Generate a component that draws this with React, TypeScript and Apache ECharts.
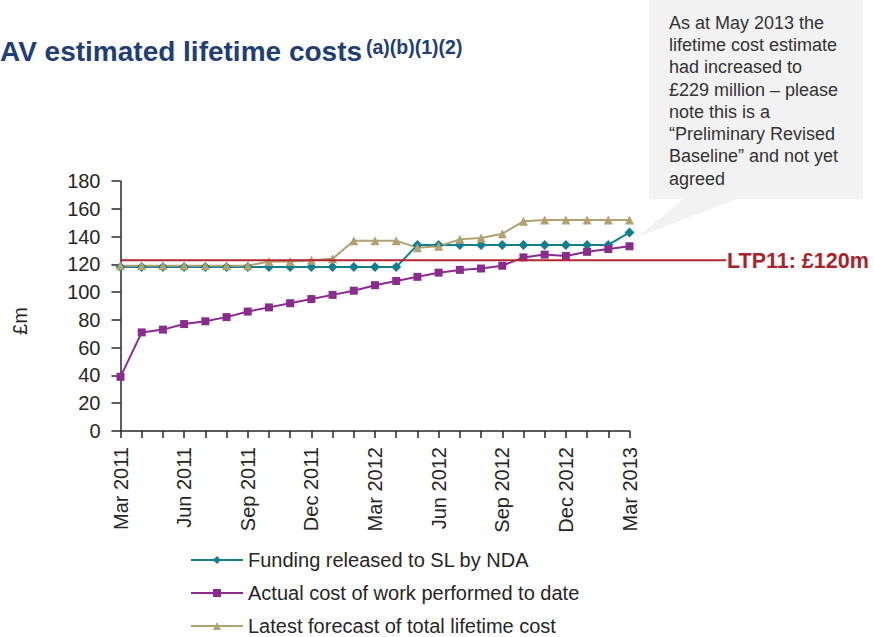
import React, { useEffect, useRef } from "react";
import * as echarts from "echarts";

const categories = [
  "Mar 2011", "Apr 2011", "May 2011", "Jun 2011", "Jul 2011", "Aug 2011", "Sep 2011",
  "Oct 2011", "Nov 2011", "Dec 2011", "Jan 2012", "Feb 2012", "Mar 2012", "Apr 2012",
  "May 2012", "Jun 2012", "Jul 2012", "Aug 2012", "Sep 2012", "Oct 2012", "Nov 2012",
  "Dec 2012", "Jan 2013", "Feb 2013", "Mar 2013",
];

const fundingReleased = [
  118, 118, 118, 118, 118, 118, 118, 118, 118, 118, 118, 118, 118, 118,
  134, 134, 134, 134, 134, 134, 134, 134, 134, 134, 143,
];

const actualCost = [
  39, 71, 73, 77, 79, 82, 86, 89, 92, 95, 98, 101, 105, 108,
  111, 114, 116, 117, 119, 125, 127, 126, 129, 131, 133,
];

const latestForecast = [
  119, 119, 119, 119, 119, 119, 119, 122, 122, 123, 124, 137, 137, 137,
  132, 133, 138, 139, 142, 151, 152, 152, 152, 152, 152,
];

const seriesNames = [
  "Funding released to SL by NDA",
  "Actual cost of work performed to date",
  "Latest forecast of total lifetime cost",
];

const LTP_VALUE = 123;
const LTP_LABEL = "LTP11: £120m";
const TITLE_MAIN = "AV estimated lifetime costs";
const TITLE_SUP = "(a)(b)(1)(2)";
const Y_NAME = "£m";
const calloutLines = [
  "As at May 2013 the",
  "lifetime cost estimate",
  "had increased to",
  "£229 million – please",
  "note this is a",
  "“Preliminary Revised",
  "Baseline” and not yet",
  "agreed",
];

const FONT = "'Liberation Sans', Arial, sans-serif";
const TEXT = "#262626";
const TEAL = "#127f8e";
const PURPLE = "#8a2b8e";
const TAN = "#b1a171";
const RED = "#b3262d";

export default function App() {
  const ref = useRef<HTMLDivElement>(null);

  useEffect(() => {
    document.body.style.margin = "0";
    const chart = echarts.init(ref.current!, null, { renderer: "svg" });

    const option: any = {
      animation: false,
      backgroundColor: "#ffffff",
      textStyle: { fontFamily: FONT },
      grid: { left: 120.5, right: 244.5, top: 181, bottom: 206, containLabel: false },
      xAxis: {
        type: "category",
        data: categories,
        boundaryGap: false,
        axisLine: { lineStyle: { color: TEXT, width: 1.5 } },
        axisTick: { show: true, interval: 0, length: 7, lineStyle: { color: TEXT, width: 1.5 } },
        axisLabel: {
          interval: 2,
          rotate: 90,
          margin: 16,
          fontSize: 20,
          color: TEXT,
          fontFamily: FONT,
        },
        splitLine: { show: false },
      },
      yAxis: {
        type: "value",
        min: 0,
        max: 180,
        interval: 20,
        axisLine: { show: true, lineStyle: { color: TEXT, width: 1.5 } },
        axisTick: { show: true, length: 9, lineStyle: { color: TEXT, width: 1.5 } },
        axisLabel: { margin: 20, fontSize: 20, color: TEXT, fontFamily: FONT },
        splitLine: { show: false },
      },
      legend: {
        orient: "vertical",
        left: 190,
        top: 550,
        height: 110,
        padding: 0,
        itemWidth: 52,
        itemHeight: 10,
        itemGap: 13,
        textStyle: { fontSize: 20, lineHeight: 20, color: TEXT, fontFamily: FONT },
        data: seriesNames,
      },
      series: [
        {
          name: seriesNames[0],
          type: "line",
          data: fundingReleased,
          symbol: "diamond",
          symbolSize: 10,
          itemStyle: { color: TEAL },
          lineStyle: { color: TEAL, width: 2 },
          z: 3,
        },
        {
          name: seriesNames[1],
          type: "line",
          data: actualCost,
          symbol: "rect",
          symbolSize: 8,
          itemStyle: { color: PURPLE },
          lineStyle: { color: PURPLE, width: 2 },
          z: 3,
        },
        {
          name: seriesNames[2],
          type: "line",
          data: latestForecast,
          symbol: "triangle",
          symbolSize: 9,
          itemStyle: { color: TAN },
          lineStyle: { color: TAN, width: 2 },
          z: 3,
        },
      ],
    };

    chart.setOption(option);

    const p = chart.convertToPixel({ gridIndex: 0 }, [0, LTP_VALUE]) as number[];
    const x0 = p[0];
    const yLtp = p[1];

    chart.setOption({
      graphic: [
        {
          type: "rect",
          shape: { x: 649, y: -2, width: 214, height: 201 },
          style: { fill: "#f2f2f2" },
          z: 1,
        },
        {
          type: "polygon",
          shape: { points: [[683, 198.5], [738, 198.5], [638, 237]] },
          style: { fill: "#f2f2f2" },
          z: 1,
        },
        {
          type: "text",
          x: 669,
          y: 11.5,
          style: {
            text: calloutLines.join("\n"),
            fontSize: 18,
            lineHeight: 22.3,
            fill: "#333333",
            fontFamily: FONT,
            verticalAlign: "top",
            align: "left",
          },
          z: 2,
        },
        {
          type: "text",
          x: 0,
          y: 51,
          style: {
            text: TITLE_MAIN,
            fontSize: 28,
            fontWeight: "bold",
            fill: "#1f3e78",
            fontFamily: FONT,
            verticalAlign: "middle",
            align: "left",
          },
        },
        {
          type: "text",
          x: 366,
          y: 47,
          style: {
            text: TITLE_SUP,
            fontSize: 19.5,
            fontWeight: "bold",
            fill: "#1f3e78",
            fontFamily: FONT,
            verticalAlign: "middle",
            align: "left",
          },
        },
        {
          type: "text",
          x: 20,
          y: 321,
          rotation: Math.PI / 2,
          style: {
            text: Y_NAME,
            fontSize: 20,
            fill: TEXT,
            fontFamily: FONT,
            verticalAlign: "middle",
            align: "center",
          },
        },
        {
          type: "line",
          shape: { x1: x0, y1: yLtp, x2: 726, y2: yLtp },
          style: { stroke: RED, lineWidth: 2 },
          z: 10,
        },
        {
          type: "text",
          x: 727,
          y: yLtp + 1,
          style: {
            text: LTP_LABEL,
            fontSize: 21.5,
            fontWeight: "bold",
            fill: "#a8232a",
            fontFamily: FONT,
            verticalAlign: "middle",
            align: "left",
          },
        },
      ],
    });

    return () => chart.dispose();
  }, []);

  return (
    <div
      ref={ref}
      style={{ position: "absolute", left: 0, top: 0, width: 874, height: 637 }}
    />
  );
}
